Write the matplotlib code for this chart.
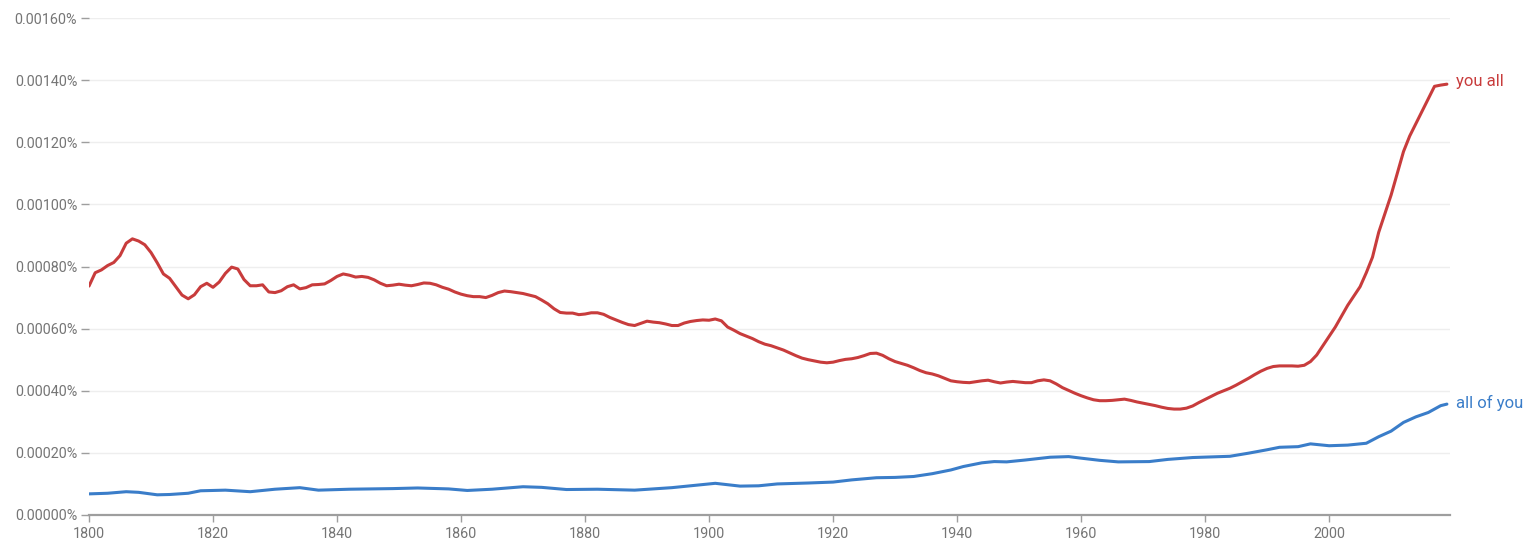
import matplotlib
matplotlib.use("Agg")
import matplotlib.pyplot as plt
from matplotlib.ticker import FixedLocator, FuncFormatter

plt.rcParams['font.family'] = ['Roboto', 'DejaVu Sans']

# ---- data (values in percent) ----
red_label = "you all"
red_years = list(range(1800, 2020))
red_values = [
    0.000737, 0.000780, 0.000789, 0.000803, 0.000813, 0.000835, 0.000875, 0.000889, 0.000882, 0.000870,
    0.000845, 0.000812, 0.000776, 0.000762, 0.000735, 0.000708, 0.000696, 0.000709, 0.000735, 0.000746,
    0.000733, 0.000750, 0.000778, 0.000798, 0.000792, 0.000758, 0.000738, 0.000738, 0.000741, 0.000718,
    0.000716, 0.000722, 0.000735, 0.000741, 0.000728, 0.000732, 0.000741, 0.000742, 0.000744, 0.000755,
    0.000768, 0.000776, 0.000772, 0.000766, 0.000768, 0.000765, 0.000757, 0.000746, 0.000738, 0.000740,
    0.000743, 0.000740, 0.000738, 0.000742, 0.000747, 0.000746, 0.000741, 0.000733, 0.000727, 0.000718,
    0.000711, 0.000706, 0.000703, 0.000703, 0.000700, 0.000707, 0.000716, 0.000721, 0.000719, 0.000716,
    0.000713, 0.000708, 0.000703, 0.000692, 0.000680, 0.000664, 0.000652, 0.000650, 0.000650, 0.000645,
    0.000647, 0.000651, 0.000651, 0.000646, 0.000636, 0.000628, 0.000620, 0.000613, 0.000610, 0.000617,
    0.000624, 0.000621, 0.000619, 0.000615, 0.000610, 0.000610, 0.000618, 0.000623, 0.000626, 0.000628,
    0.000627, 0.000631, 0.000625, 0.000605, 0.000595, 0.000584, 0.000576, 0.000568, 0.000558, 0.000550,
    0.000545, 0.000538, 0.000531, 0.000522, 0.000513, 0.000505, 0.000500, 0.000496, 0.000492, 0.000490,
    0.000492, 0.000497, 0.000501, 0.000503, 0.000507, 0.000513, 0.000520, 0.000521, 0.000514, 0.000503,
    0.000494, 0.000488, 0.000482, 0.000474, 0.000465, 0.000458, 0.000454, 0.000448, 0.000440, 0.000432,
    0.000429, 0.000427, 0.000426, 0.000429, 0.000432, 0.000434, 0.000429, 0.000425, 0.000428, 0.000430,
    0.000428, 0.000426, 0.000426, 0.000432, 0.000435, 0.000432, 0.000422, 0.000410, 0.000401, 0.000392,
    0.000384, 0.000377, 0.000371, 0.000368, 0.000368, 0.000369, 0.000371, 0.000373, 0.000369, 0.000364,
    0.000360, 0.000356, 0.000352, 0.000347, 0.000343, 0.000341, 0.000341, 0.000344, 0.000351, 0.000362,
    0.000372, 0.000382, 0.000392, 0.000400, 0.000408, 0.000418, 0.000429, 0.000440, 0.000452, 0.000463,
    0.000472, 0.000478, 0.000480, 0.000480, 0.000480, 0.000479, 0.000482, 0.000494, 0.000515, 0.000545,
    0.000575, 0.000605, 0.000640, 0.000675, 0.000705, 0.000735, 0.000780, 0.000830, 0.000910, 0.000970,
    0.001030, 0.001100, 0.001170, 0.001220, 0.001260, 0.001300, 0.001340, 0.001380, 0.001384, 0.001387,
]

blue_label = "all of you"
blue_years = [
    1800, 1803, 1806, 1808, 1811, 1813, 1816, 1818, 1822, 1826, 1830, 1834, 1837, 1842, 1849, 1853,
    1858, 1861, 1865, 1870, 1873, 1877, 1882, 1888, 1894, 1901, 1905, 1908, 1911, 1916, 1920, 1923,
    1927, 1930, 1933, 1936, 1939, 1941, 1944, 1946, 1948, 1951, 1955, 1958, 1960, 1963, 1966, 1971,
    1974, 1978, 1981, 1984, 1987, 1990, 1992, 1995, 1997, 2000, 2003, 2006, 2008, 2010, 2012, 2014,
    2016, 2018, 2019,
]
blue_values = [
    0.000068, 0.000070, 0.000075, 0.000073, 0.000065, 0.000066, 0.000070, 0.000078, 0.000080, 0.000075,
    0.000083, 0.000088, 0.000080, 0.000083, 0.000085, 0.000087, 0.000084, 0.000079, 0.000083, 0.000091,
    0.000089, 0.000082, 0.000083, 0.000080, 0.000088, 0.000102, 0.000093, 0.000094, 0.000100, 0.000103,
    0.000106, 0.000113, 0.000120, 0.000121, 0.000124, 0.000133, 0.000145, 0.000156, 0.000168, 0.000172,
    0.000171, 0.000177, 0.000186, 0.000188, 0.000183, 0.000176, 0.000171, 0.000172, 0.000179, 0.000185,
    0.000187, 0.000189, 0.000199, 0.000210, 0.000218, 0.000220, 0.000229, 0.000223, 0.000225, 0.000231,
    0.000252, 0.000270, 0.000298, 0.000316, 0.000330, 0.000352, 0.000357,
]

x_ticks = [1800, 1820, 1840, 1860, 1880, 1900, 1920, 1940, 1960, 1980, 2000]
y_ticks = [0.0, 0.0002, 0.0004, 0.0006, 0.0008, 0.0010, 0.0012, 0.0014, 0.0016]

RED = "#c83c3c"
BLUE = "#3a7dc9"
TXT = "#757575"

fig = plt.figure(figsize=(15.36, 5.48), dpi=100)
ax = fig.add_axes([89 / 1536, 1 - 515 / 548, (1450 - 89) / 1536, (515 - 18) / 548])

ax.plot(red_years, red_values, color=RED, lw=2.2, solid_joinstyle='round', solid_capstyle='round', zorder=3)
ax.plot(blue_years, blue_values, color=BLUE, lw=2.2, solid_joinstyle='round', solid_capstyle='round', zorder=3)

ax.set_xlim(1800, 2019.5)
ax.set_ylim(0, 0.0016)

ax.yaxis.set_major_locator(FixedLocator(y_ticks))
ax.xaxis.set_major_locator(FixedLocator(x_ticks))
ax.yaxis.set_major_formatter(FuncFormatter(lambda v, p: f"{v:.5f}%"))
ax.xaxis.set_major_formatter(FuncFormatter(lambda v, p: f"{int(round(v))}"))

for s in ['top', 'right', 'left']:
    ax.spines[s].set_visible(False)
ax.spines['bottom'].set_color("#9e9e9e")
ax.spines['bottom'].set_linewidth(1.6)

ax.grid(axis='y', color="#eeeeee", lw=1.0, zorder=0)
ax.set_axisbelow(True)

ax.tick_params(axis='y', length=5.5, width=1.0, color="#9e9e9e", labelcolor=TXT, labelsize=10.4, pad=3)
ax.tick_params(axis='x', length=5, width=1.0, color="#9e9e9e", labelcolor=TXT, labelsize=10.4, pad=3.5)

ax.text(2020.5, red_values[-1] + 0.00001, red_label, color=RED, fontsize=12, va='center', ha='left', clip_on=False)
ax.text(2020.5, blue_values[-1] + 0.000005, blue_label, color=BLUE, fontsize=12, va='center', ha='left', clip_on=False)

fig.savefig("out.png", dpi=100, facecolor="white")
